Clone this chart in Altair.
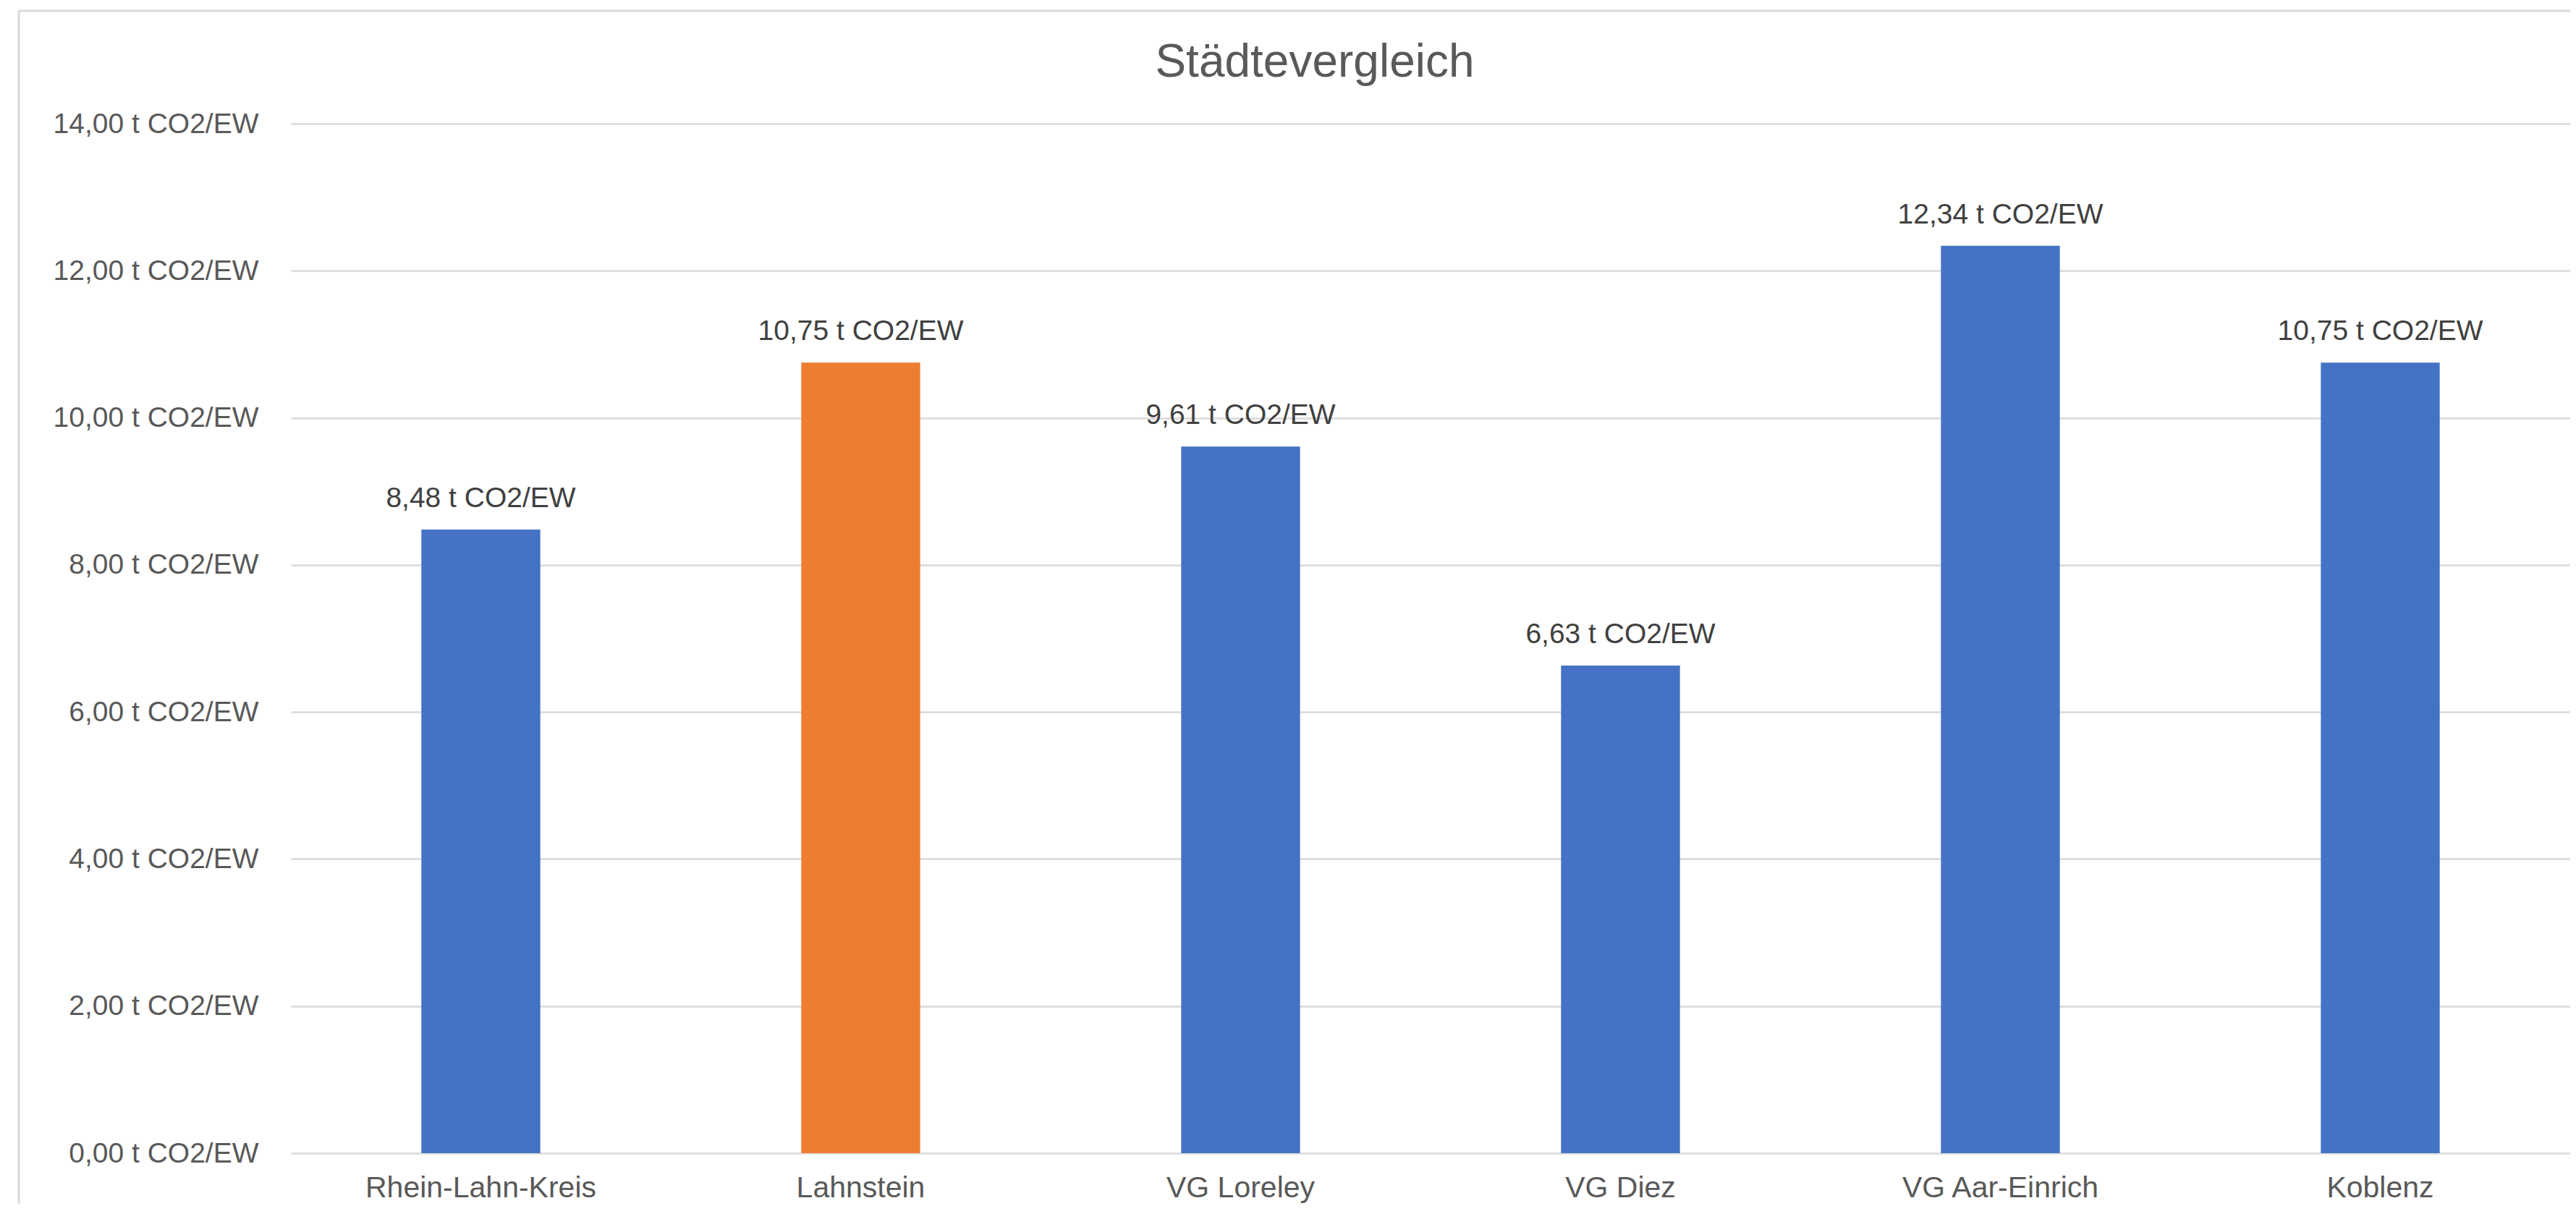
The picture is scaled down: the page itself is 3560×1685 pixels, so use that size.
import altair as alt
import pandas as pd

# ---- data ----
categories = ["Rhein-Lahn-Kreis", "Lahnstein", "VG Loreley", "VG Diez", "VG Aar-Einrich", "Koblenz"]
values = [8.48, 10.75, 9.61, 6.63, 12.34, 10.75]
highlight = ["nein", "ja", "nein", "nein", "nein", "nein"]
y_ticks = [0, 2, 4, 6, 8, 10, 12, 14]
title_text = "Städtevergleich"

df = pd.DataFrame({"Gebiet": categories, "Wert": values, "Hervorhebung": highlight})

FONT = "Liberation Sans"
PLOT_W = 3150
PLOT_H = 1423
XLBL = 41
YLBL = 39

x_enc = alt.X(
    "Gebiet:N",
    sort=categories,
    scale=alt.Scale(paddingInner=0.687, paddingOuter=0.3435),
    axis=alt.Axis(title=None, labelAngle=0, ticks=False, domain=False,
                  labelPadding=28, labelFontSize=XLBL, labelColor="#595959",
                  labelFont=FONT, labelBaseline="top", labelLimit=0),
)
y_enc = alt.Y(
    "Wert:Q",
    scale=alt.Scale(domain=[0, 14], nice=False),
    axis=alt.Axis(values=y_ticks, title=None, ticks=False, domain=False,
                  labelExpr="replace(format(datum.value, '.2f'), '.', ',') + ' t CO2/EW'",
                  gridColor="#d9d9d9", gridWidth=2.5, labelPadding=45, labelLimit=0,
                  labelFontSize=YLBL, labelColor="#595959", labelFont=FONT),
)

base = alt.Chart(df).encode(x=x_enc, y=y_enc)

bars = base.mark_bar().encode(
    color=alt.Color("Hervorhebung:N",
                    scale=alt.Scale(domain=["nein", "ja"], range=["#4472C4", "#ED7D31"]),
                    legend=None)
)

labels = base.transform_calculate(
    Label="replace(format(datum.Wert, '.2f'), '.', ',') + ' t CO2/EW'"
).mark_text(baseline="middle", dy=-43, fontSize=YLBL, font=FONT, color="#404040").encode(
    text="Label:N"
)

border_data = alt.Data(values=[{"b": 1}])
border_left = alt.Chart(border_data).mark_rule(color="#d9d9d9", strokeWidth=3).encode(
    x=alt.value(-376), y=alt.value(-156), y2=alt.value(PLOT_H + 200)
)
border_top = alt.Chart(border_data).mark_rule(color="#d9d9d9", strokeWidth=3).encode(
    x=alt.value(-376), x2=alt.value(PLOT_W + 50), y=alt.value(-156)
)

chart = alt.layer(border_left, border_top, bars, labels).properties(
    width=PLOT_W,
    height=PLOT_H,
    padding={"left": 394, "top": 163, "right": 0, "bottom": 70},
    autosize=alt.AutoSizeParams(type="none"),
    title=alt.Title(title_text, fontSize=64, font=FONT, color="#595959",
                    fontWeight="normal", anchor="middle", dx=-160, dy=165, offset=60),
).configure_view(strokeWidth=0)

chart.save("out.html", embed_options={"renderer": "svg", "actions": False})
